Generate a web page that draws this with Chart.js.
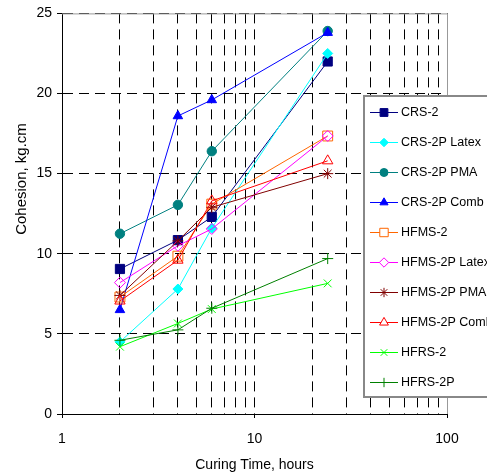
<!DOCTYPE html>
<html>
<head>
<meta charset="utf-8">
<script src="https://cdn.jsdelivr.net/npm/chart.js@4.4.1/dist/chart.umd.min.js"></script>
<style>
  html, body { margin: 0; padding: 0; background: #fff; }
</style>
</head>
<body>
<canvas id="chart" width="487" height="475"></canvas>
<script>
"use strict";

// curing times (hours) shared by every series
var hours = [2, 4, 6, 24];

var crs2        = [9.05, 10.85, 12.3, 22.0];
var crs2pLatex  = [4.5, 7.8, 11.6, 22.5];
var crs2pPma    = [11.25, 13.05, 16.4, 23.9];
var crs2pComb   = [6.5, 18.6, 19.6, 23.8];
var hfms2       = [7.3, 9.85, 13.1, 17.35];
var hfms2pLatex = [8.2, 10.5, 11.55, 17.35];
var hfms2pPma   = [7.4, 10.8, 12.9, 15.0];
var hfms2pComb  = [7.05, 9.6, 13.3, 15.8];
var hfrs2       = [4.2, 5.65, 6.55, 8.15];
var hfrs2p      = [4.6, 5.25, 6.6, 9.7];

var seriesNames = ['CRS-2', 'CRS-2P Latex', 'CRS-2P PMA', 'CRS-2P Comb', 'HFMS-2',
                   'HFMS-2P Latex', 'HFMS-2P PMA', 'HFMS-2P Comb', 'HFRS-2', 'HFRS-2P'];
var seriesValues = [crs2, crs2pLatex, crs2pPma, crs2pComb, hfms2,
                    hfms2pLatex, hfms2pPma, hfms2pComb, hfrs2, hfrs2p];

// log axis grid positions and the ones that get a label
var xGridTicks = [1, 2, 3, 4, 5, 6, 7, 8, 9, 10, 20, 30, 40, 50, 60, 70, 80, 90, 100];
var xTickLabels = [1, 10, 100];

var FONT = "'Liberation Sans', Arial, sans-serif";

// colour, marker, filled?, radius
var styles = [
  { c: '#000080', p: 'rect',     fill: true,  r: 6.5 },
  { c: '#00ffff', p: 'rectRot',  fill: true,  r: 5 },
  { c: '#008080', p: 'circle',   fill: true,  r: 4.7 },
  { c: '#0000ff', p: 'triangle', fill: true,  r: 5.5 },
  { c: '#ff6600', p: 'rect',     fill: false, r: 7 },
  { c: '#ff00ff', p: 'rectRot',  fill: false, r: 5.5 },
  { c: '#800000', p: 'star',     fill: false, r: 5.5 },
  { c: '#ff0000', p: 'triangle', fill: false, r: 6 },
  { c: '#00ff00', p: 'crossRot', fill: false, r: 5.5 },
  { c: '#008000', p: 'cross',    fill: false, r: 5.5 }
];

var datasets = seriesNames.map(function(name, i) {
  var s = styles[i];
  return {
    label: name,
    data: hours.map(function(h, k) { return { x: h, y: seriesValues[i][k] }; }),
    borderColor: s.c,
    backgroundColor: s.c,
    borderWidth: 1,
    pointStyle: s.p,
    pointRadius: s.r,
    pointBorderColor: s.c,
    pointBackgroundColor: s.fill ? s.c : 'rgba(0,0,0,0)',
    pointBorderWidth: 1,
    tension: 0,
    order: seriesNames.length - i
  };
});

function isMajor(v) {
  var l = Math.log10(v);
  return Math.abs(l - Math.round(l)) < 1e-9;
}

var framePlugin = {
  id: 'frame',
  beforeDatasetsDraw: function(chart) {
    var a = chart.chartArea, ctx = chart.ctx;
    ctx.save();
    ctx.strokeStyle = '#999';
    ctx.lineWidth = 1;
    ctx.beginPath();
    ctx.moveTo(a.left, a.top + 0.5);
    ctx.lineTo(a.right + 0.5, a.top + 0.5);
    ctx.lineTo(a.right + 0.5, a.bottom);
    ctx.stroke();
    ctx.restore();
  },
  afterDraw: function(chart) {
    var ctx = chart.ctx;
    ctx.save();
    // y axis title
    ctx.translate(22, 179);
    ctx.rotate(-Math.PI / 2);
    ctx.fillStyle = '#000';
    ctx.font = '15px ' + FONT;
    ctx.textAlign = 'center';
    ctx.textBaseline = 'middle';
    ctx.fillText('Cohesion, kg.cm', 0, 0);
    ctx.restore();

    // legend box
    ctx.save();
    ctx.fillStyle = '#fff';
    ctx.fillRect(364, 96, 130, 301);
    ctx.strokeStyle = '#888';
    ctx.lineWidth = 2;
    ctx.strokeRect(364, 96, 130, 301);
    ctx.font = '12.5px ' + FONT;
    ctx.textBaseline = 'middle';
    ctx.textAlign = 'left';
    seriesNames.forEach(function(name, i) {
      var s = styles[i];
      var y = 112 + 30 * i;
      ctx.strokeStyle = s.c;
      ctx.lineWidth = 1;
      ctx.beginPath();
      ctx.moveTo(370, y + 0.5);
      ctx.lineTo(398, y + 0.5);
      ctx.stroke();
      ctx.fillStyle = s.fill ? s.c : '#fff';
      Chart.helpers.drawPoint(ctx, {
        pointStyle: s.p, radius: s.r * 0.85, rotation: 0, borderWidth: 1
      }, 384, y + 0.5);
      ctx.fillStyle = '#000';
      ctx.fillText(name, 401, y + 1);
    });
    ctx.restore();
  }
};

new Chart(document.getElementById('chart'), {
  type: 'line',
  data: { datasets: datasets },
  options: {
    responsive: false,
    animation: false,
    layout: { padding: { top: 12, right: 40, left: 0, bottom: 0 } },
    plugins: { legend: { display: false }, tooltip: { enabled: false } },
    scales: {
      x: {
        type: 'logarithmic',
        min: 1, max: 100,
        afterFit: function(s) { s.height = 61; },
        afterBuildTicks: function(s) {
          s.ticks = xGridTicks.map(function(v) { return { value: v, major: isMajor(v) }; });
        },
        grid: {
          color: '#000', lineWidth: 1, tickLength: 4,
          tickColor: function(c) { return c.tick && isMajor(c.tick.value) ? '#000' : 'rgba(0,0,0,0)'; }
        },
        border: { color: '#000', width: 1, dash: [10, 6] },
        ticks: {
          autoSkip: false, maxRotation: 0, padding: 13, color: '#000',
          font: { family: FONT, size: 14 },
          callback: function(v) { return xTickLabels.indexOf(v) >= 0 ? String(v) : ''; }
        },
        title: {
          display: true, text: 'Curing Time, hours', color: '#000',
          font: { family: FONT, size: 14 }, padding: { top: 0, bottom: 1 }
        }
      },
      y: {
        min: 0, max: 25,
        afterFit: function(s) { s.width = 62; },
        grid: { color: '#000', lineWidth: 1, tickLength: 5, tickColor: '#000' },
        border: { color: '#000', width: 1, dash: [10, 6] },
        ticks: { stepSize: 5, padding: 5, color: '#000', font: { family: FONT, size: 14 } }
      }
    }
  },
  plugins: [framePlugin]
});
</script>
</body>
</html>
